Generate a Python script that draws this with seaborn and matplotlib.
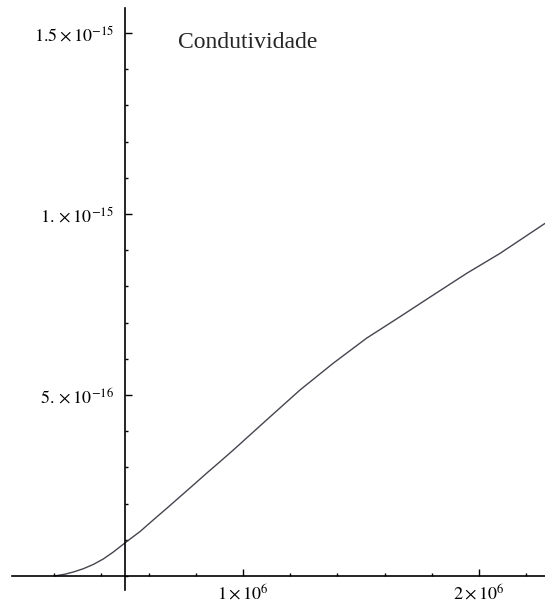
import matplotlib
matplotlib.use("Agg")
from matplotlib import pyplot as plt
from matplotlib.ticker import MultipleLocator
import numpy as np
import pandas as pd
import seaborn as sns

# valores (frequencia em Hz, condutividade em 1e-15)
freq = [0.200e6, 0.246e6, 0.281e6, 0.323e6, 0.366e6, 0.408e6, 0.450e6,
        0.507e6, 0.564e6, 0.620e6, 0.677e6, 0.733e6, 0.789e6, 0.846e6,
        0.903e6, 0.959e6, 1.100e6, 1.242e6, 1.383e6, 1.524e6, 1.665e6,
        1.806e6, 1.948e6, 2.089e6, 2.280e6]
cond = [0.000, 0.005, 0.011, 0.020, 0.032, 0.047, 0.066,
        0.095, 0.123, 0.155, 0.187, 0.219, 0.251, 0.284,
        0.316, 0.348, 0.431, 0.514, 0.588, 0.657, 0.716,
        0.776, 0.836, 0.891, 0.974]

x_ticks = [1e6, 2e6]
x_labels = [r"$1\times10^{6}$", r"$2\times10^{6}$"]
y_ticks = [5e-16, 1e-15, 1.5e-15]
y_labels = [r"$5.\times10^{-16}$", r"$1.\times10^{-15}$", r"$1.5\times10^{-15}$"]

df = pd.DataFrame({"freq": freq, "cond": np.array(cond) * 1e-15})

sns.set_style("white")
plt.rcParams['font.family'] = ['Liberation Serif', 'DejaVu Serif']
plt.rcParams['mathtext.fontset'] = 'stix'

fig = plt.figure(figsize=(5.45, 6.05), dpi=100)
ax = fig.add_axes([12 / 545, 15 / 605, 533 / 545, 582 / 605])
ax.set_facecolor("white")

sns.lineplot(data=df, x="freq", y="cond", ax=ax, color="#45454f", linewidth=1.0)

ax.set_xlim(0.021e6, 2.28e6)
ax.set_ylim(-0.0387e-15, 1.569e-15)

# eixos estilo Mathematica
ax.spines['left'].set_position(('data', 0.5e6))
ax.spines['bottom'].set_position(('data', 0))
ax.spines['top'].set_visible(False)
ax.spines['right'].set_visible(False)
for s in ['left', 'bottom']:
    ax.spines[s].set_color("black")
    ax.spines[s].set_linewidth(1.2)

ax.set_xticks(x_ticks)
ax.set_xticklabels(x_labels)
ax.set_yticks(y_ticks)
ax.set_yticklabels(y_labels)
ax.xaxis.set_minor_locator(MultipleLocator(0.2e6))
ax.yaxis.set_minor_locator(MultipleLocator(1e-16))
ax.tick_params(which='major', direction='in', length=5, width=1, colors='black',
               labelsize=13, pad=8)
ax.tick_params(axis='x', which='major', pad=5)
ax.tick_params(which='minor', direction='in', length=2.5, width=1, colors='black')
ax.tick_params(axis='x', which='both', bottom=True, top=False)
ax.tick_params(axis='y', which='both', left=True, right=False)
ax.set_xlabel("")
ax.set_ylabel("")
ax.grid(False)

fig.text(178 / 545, 1 - 43 / 605, "Condutividade", fontsize=17,
         ha='left', va='center', family=['Liberation Serif', 'DejaVu Serif'])

plt.savefig("out.png", dpi=100)
